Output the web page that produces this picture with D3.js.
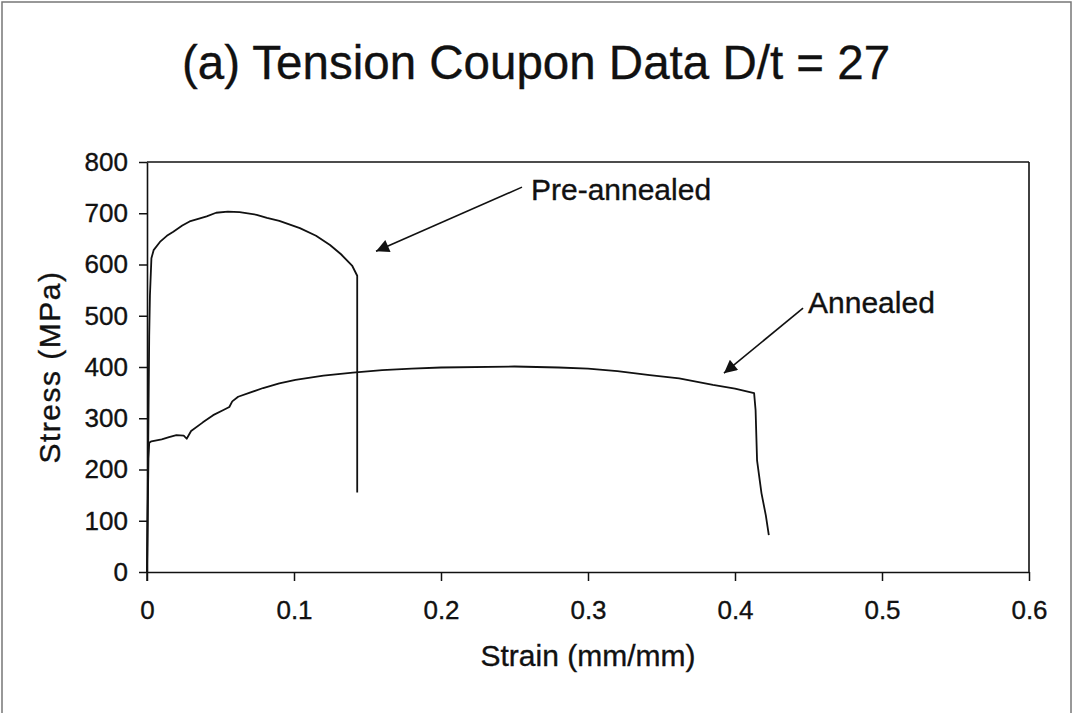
<!DOCTYPE html>
<html>
<head>
<meta charset="utf-8">
<script src="https://cdn.jsdelivr.net/npm/d3@7/dist/d3.min.js"></script>
<style>
  html, body { margin: 0; padding: 0; background: #fff; }
  svg { display: block; font-family: "Liberation Sans", Arial, Helvetica, sans-serif; }
  svg text { stroke: #111; stroke-width: 0.35px; }
</style>
</head>
<body>
<svg id="chart" width="1073" height="713"></svg>
<script>
// ---- data ----
const titleText = "(a) Tension Coupon Data D/t = 27";
const xLabel = "Strain (mm/mm)";
const yLabel = "Stress (MPa)";
const xTicks = [0, 0.1, 0.2, 0.3, 0.4, 0.5, 0.6];
const xTickLabels = ["0", "0.1", "0.2", "0.3", "0.4", "0.5", "0.6"];
const yTicks = [0, 100, 200, 300, 400, 500, 600, 700, 800];
const yTickLabels = ["0", "100", "200", "300", "400", "500", "600", "700", "800"];

const preStrain = [0, 0.0005, 0.001, 0.0015, 0.002, 0.003, 0.0045, 0.0088, 0.0135, 0.0179, 0.024, 0.029, 0.036, 0.0406, 0.047, 0.055, 0.063, 0.0746, 0.0816, 0.09, 0.104, 0.115, 0.1245, 0.132, 0.1395, 0.143, 0.143];
const preStress = [0, 150, 300, 460, 540, 612, 628, 644, 656, 664, 676, 684, 690, 694, 701, 703, 702, 697, 691, 685, 671, 656, 638, 620, 598, 578, 155];

const annStrain = [0, 0.0005, 0.001, 0.0015, 0.003, 0.01, 0.015, 0.02, 0.025, 0.027, 0.03, 0.038, 0.045, 0.052, 0.056, 0.058, 0.062, 0.07, 0.079, 0.09, 0.101, 0.12, 0.14, 0.16, 0.18, 0.2, 0.25, 0.28, 0.3, 0.32, 0.342, 0.362, 0.385, 0.4, 0.413, 0.414, 0.415, 0.418, 0.421, 0.423];
const annStress = [0, 120, 222, 252, 255, 259, 263, 267, 266, 260, 275, 292, 306, 316, 322, 333, 342, 350, 359, 368, 375, 383, 389, 394, 397, 399, 401, 399, 397, 392, 384, 378, 365, 358, 349, 316, 218, 154, 110, 72];

const annotationNames = ["Pre-annealed", "Annealed"];
const annotationTextX = [0.2612, 0.4497];
const annotationTextY = [726, 505];
const arrowTailX = [0.2551, 0.4463];
const arrowTailY = [751, 515];
const arrowTipX = [0.1558, 0.3925];
const arrowTipY = [626, 388];

// ---- layout ----
const svg = d3.select("#chart");
const mLeft = 147, mRight = 1029, mTop = 162, mBottom = 572;
const ink = "#111";

const x = d3.scaleLinear().domain([0, 0.6]).range([mLeft, mRight]);
const y = d3.scaleLinear().domain([0, 800]).range([mBottom, mTop]);

// outer frame
svg.append("rect")
  .attr("x", 2).attr("y", 2).attr("width", 1069).attr("height", 720)
  .attr("fill", "none").attr("stroke", "#777").attr("stroke-width", 1.5);

// title
svg.append("text")
  .attr("x", 536).attr("y", 79)
  .attr("text-anchor", "middle")
  .attr("font-size", 47.5)
  .attr("fill", ink)
  .text(titleText);

// plot frame top/right
svg.append("line").attr("x1", mLeft).attr("x2", mRight).attr("y1", mTop).attr("y2", mTop)
  .attr("stroke", ink).attr("stroke-width", 1.6);
svg.append("line").attr("x1", mRight).attr("x2", mRight).attr("y1", mTop).attr("y2", mBottom)
  .attr("stroke", ink).attr("stroke-width", 1.6);

// axes
const xAxis = d3.axisBottom(x).tickValues(xTicks)
  .tickFormat((d, i) => xTickLabels[i]).tickSizeInner(9).tickSizeOuter(0).tickPadding(20);
const gx = svg.append("g").attr("transform", `translate(0,${mBottom})`).call(xAxis);

const yAxis = d3.axisLeft(y).tickValues(yTicks)
  .tickFormat((d, i) => yTickLabels[i]).tickSizeInner(8).tickSizeOuter(0).tickPadding(11);
const gy = svg.append("g").attr("transform", `translate(${mLeft},0)`).call(yAxis);

[gx, gy].forEach(g => {
  g.select(".domain").attr("stroke", ink).attr("stroke-width", 1.6);
  g.selectAll(".tick line").attr("stroke", ink).attr("stroke-width", 1.5);
  g.selectAll(".tick text")
    .attr("font-family", "Liberation Sans, Arial, sans-serif")
    .attr("font-size", 26).attr("fill", ink);
});
svg.append("line").attr("x1", mLeft).attr("x2", mLeft).attr("y1", mBottom).attr("y2", mBottom + 9)
  .attr("stroke", ink).attr("stroke-width", 1.5);

// axis labels
svg.append("text")
  .attr("x", 588).attr("y", 666)
  .attr("text-anchor", "middle")
  .attr("font-size", 30)
  .attr("fill", ink)
  .text(xLabel);

svg.append("text")
  .attr("transform", `translate(60,${(mTop + mBottom) / 2}) rotate(-90)`)
  .attr("text-anchor", "middle")
  .attr("font-size", 30)
  .attr("letter-spacing", 1.5)
  .attr("fill", ink)
  .text(yLabel);

// curves
const line = d3.line().x(d => x(d[0])).y(d => y(d[1]));
const preData = preStrain.map((s, i) => [s, preStress[i]]);
const annData = annStrain.map((s, i) => [s, annStress[i]]);

[preData, annData].forEach(data => {
  svg.append("path")
    .datum(data)
    .attr("d", line)
    .attr("fill", "none")
    .attr("stroke", ink)
    .attr("stroke-width", 1.8)
    .attr("stroke-linejoin", "round");
});

// arrow marker
svg.append("defs").append("marker")
  .attr("id", "arrowhead")
  .attr("viewBox", "0 0 10 10")
  .attr("refX", 10).attr("refY", 5)
  .attr("markerUnits", "userSpaceOnUse")
  .attr("markerWidth", 16).attr("markerHeight", 13)
  .attr("orient", "auto")
  .append("path")
  .attr("d", "M0,0 L10,5 L0,10 Z")
  .attr("fill", ink);

annotationNames.forEach((name, i) => {
  svg.append("line")
    .attr("x1", x(arrowTailX[i])).attr("y1", y(arrowTailY[i]))
    .attr("x2", x(arrowTipX[i])).attr("y2", y(arrowTipY[i]))
    .attr("stroke", ink).attr("stroke-width", 1.6)
    .attr("marker-end", "url(#arrowhead)");
  svg.append("text")
    .attr("x", x(annotationTextX[i])).attr("y", y(annotationTextY[i]))
    .attr("font-size", 30)
    .attr("fill", ink)
    .text(name);
});
</script>
</body>
</html>
